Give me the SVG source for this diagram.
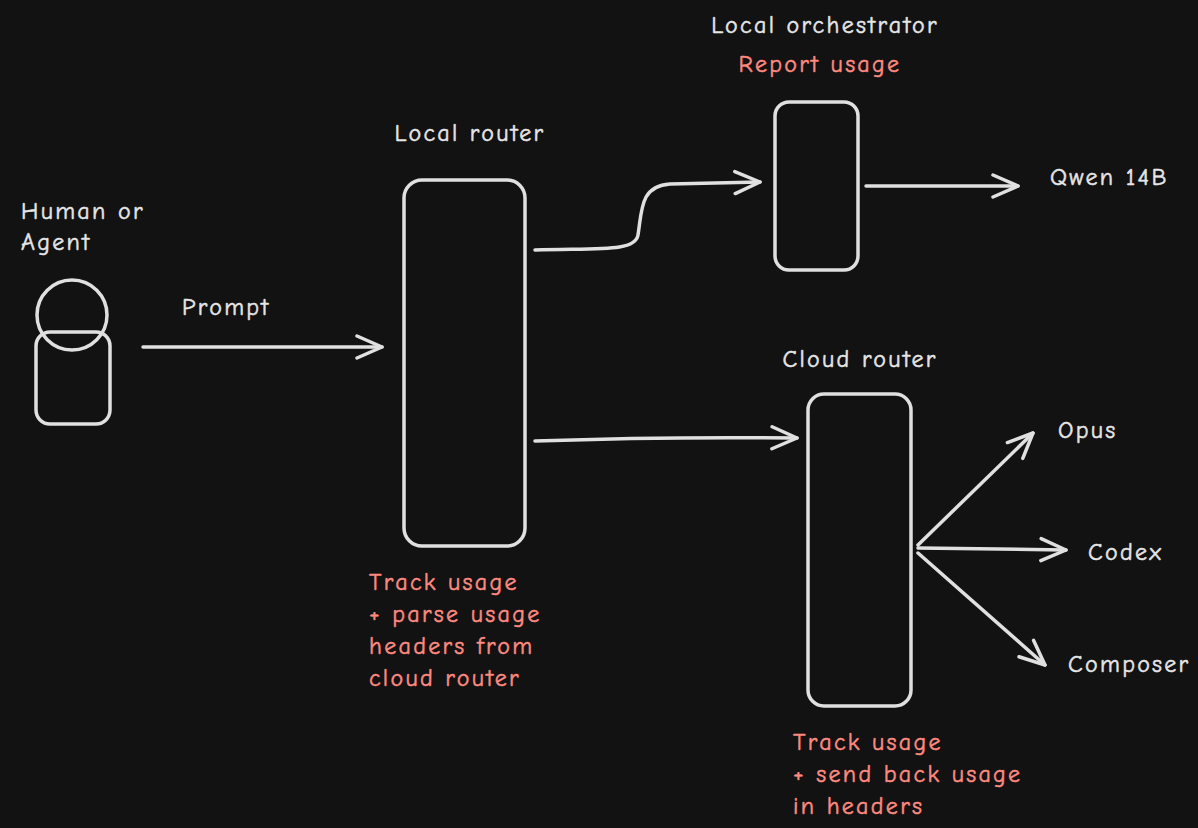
<svg xmlns="http://www.w3.org/2000/svg" width="1198" height="828" viewBox="0 0 1198 828">
<style>
.s{fill:none;stroke:#e0e0e0;stroke-width:3.5;stroke-linecap:round;stroke-linejoin:round}
.t{font-family:"Comic Neue","Liberation Sans",sans-serif;font-size:24px;letter-spacing:2.3px;fill:#e6e6e6;stroke:#e6e6e6;stroke-width:0.5}
.r{fill:#ff8a80;stroke:#ff8a80}
</style>
<defs>
<marker id="b" viewBox="0 0 30 30" refX="28" refY="15" markerWidth="30" markerHeight="30" markerUnits="userSpaceOnUse" orient="auto">
<polyline points="3,4 28,15 3,26" fill="none" stroke="#e0e0e0" stroke-width="3.5" stroke-linecap="round" stroke-linejoin="round"/>
</marker>
</defs>
<rect width="1198" height="828" fill="#121212"/>
<g id="human">
<circle class="s" cx="72" cy="315" r="35"/>
<rect class="s" x="36" y="332" width="74" height="92" rx="14"/>
<text class="t" x="21" y="219">Human or</text>
<text class="t" x="21" y="250">Agent</text>
</g>
<g id="local-router">
<rect class="s" x="404" y="180" width="121" height="366" rx="18"/>
<text class="t" x="470" y="141" text-anchor="middle">Local router</text>
<text class="t r" x="369" y="590">Track usage</text>
<text class="t r" x="369" y="622">+ parse usage</text>
<text class="t r" x="369" y="654">headers from</text>
<text class="t r" x="369" y="686">cloud router</text>
</g>
<g id="local-orchestrator">
<rect class="s" x="775" y="102" width="83" height="168" rx="14"/>
<text class="t" x="825" y="33" text-anchor="middle">Local orchestrator</text>
<text class="t r" x="820" y="72" text-anchor="middle">Report usage</text>
</g>
<g id="cloud-router">
<rect class="s" x="808" y="394" width="103" height="312" rx="16"/>
<text class="t" x="860" y="367" text-anchor="middle">Cloud router</text>
<text class="t r" x="793" y="750">Track usage</text>
<text class="t r" x="793" y="782">+ send back usage</text>
<text class="t r" x="793" y="814">in headers</text>
</g>
<g id="labels">
<text class="t" x="182" y="315">Prompt</text>
<text class="t" x="1050" y="185">Qwen 14B</text>
<text class="t" x="1058" y="438">Opus</text>
<text class="t" x="1088" y="560">Codex</text>
<text class="t" x="1068" y="672">Composer</text>
</g>
<g id="connectors">
<path class="s" d="M143,347 L382,347" marker-end="url(#b)"/>
<path class="s" d="M535,250 C600,248 635,252 638,235 C642,210 640,186 670,184 L760,182" marker-end="url(#b)"/>
<path class="s" d="M866,186 L1018,186" marker-end="url(#b)"/>
<path class="s" d="M535,441 C620,438 700,437 797,438" marker-end="url(#b)"/>
<path class="s" d="M918,545 L1033,433" marker-end="url(#b)"/>
<path class="s" d="M918,548 L1066,550" marker-end="url(#b)"/>
<path class="s" d="M918,553 L1045,665" marker-end="url(#b)"/>
</g>
</svg>
